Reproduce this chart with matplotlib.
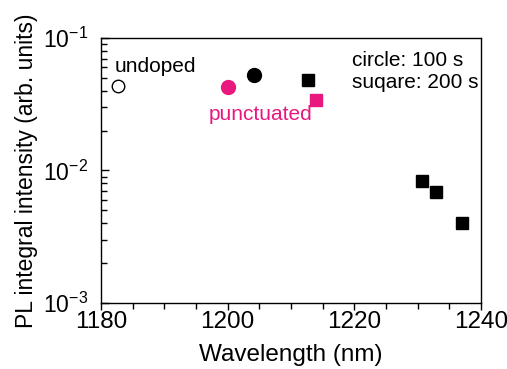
import numpy as np
import matplotlib
matplotlib.use("Agg")
from matplotlib import pyplot as plt
from matplotlib.ticker import MultipleLocator, LogLocator, FixedLocator

plt.rcParams['font.family'] = ['Liberation Sans', 'DejaVu Sans']
plt.rcParams['mathtext.default'] = 'regular'

# ----------
# data

undoped_x = [1182.7]
undoped_y = [0.0435]

pink_circle_x = [1200.0]
pink_circle_y = [0.043]
pink_square_x = [1213.9]
pink_square_y = [0.034]

black_circle_x = [1204.2]
black_circle_y = [0.0526]
black_square_x = [1212.7, 1230.6, 1232.9, 1237.0]
black_square_y = [0.0482, 0.00834, 0.0069, 0.00404]

pink = '#e8187f'

# ----------
# figure

fig = plt.figure(figsize=(5.07, 3.69), dpi=100)
axes = fig.add_axes([0.199, 0.179, 0.750, 0.718])

axes.plot(undoped_x, undoped_y, 'o', mfc='white', mec='black', mew=1.0, ms=9)
axes.plot(pink_circle_x, pink_circle_y, 'o', color=pink, ms=10)
axes.plot(black_circle_x, black_circle_y, 'o', color='black', ms=10)
axes.plot(pink_square_x, pink_square_y, 's', color=pink, ms=9)
axes.plot(black_square_x, black_square_y, 's', color='black', ms=9)

axes.set_yscale('log')
axes.set_xlim(1180, 1240)
axes.set_ylim(1e-3, 1e-1)

axes.xaxis.set_major_locator(MultipleLocator(20))
axes.xaxis.set_minor_locator(MultipleLocator(5))
axes.yaxis.set_major_locator(FixedLocator([1e-3, 1e-2, 1e-1]))
axes.yaxis.set_minor_locator(LogLocator(base=10, subs=np.arange(2, 10)))
axes.set_yticklabels(['$10^{-3}$', '$10^{-2}$', '$10^{-1}$'])

axes.tick_params(axis='x', which='major', direction='out', length=5, width=1, labelsize=17.5, pad=1)
axes.tick_params(axis='x', which='minor', direction='out', length=4, width=1)
axes.tick_params(axis='y', which='major', direction='in', length=6, width=1, labelsize=16.5, pad=9)
axes.tick_params(axis='y', which='minor', direction='in', length=4, width=1)
for sp in axes.spines.values():
    sp.set_linewidth(1)

axes.set_xlabel('Wavelength (nm)', fontsize=17.5, labelpad=8)
axes.set_ylabel('PL integral intensity (arb. units)', fontsize=16.5, labelpad=4)

axes.text(1182.2, 0.052, 'undoped', fontsize=15, ha='left', va='bottom')
axes.text(1197.0, 0.0225, 'punctuated', fontsize=15, color=pink, ha='left', va='bottom')
axes.text(1219.6, 0.068, 'circle: 100 s', fontsize=15, ha='left', va='center')
axes.text(1219.6, 0.0465, 'suqare: 200 s', fontsize=15, ha='left', va='center')

fig.savefig('out.png', dpi=100)
